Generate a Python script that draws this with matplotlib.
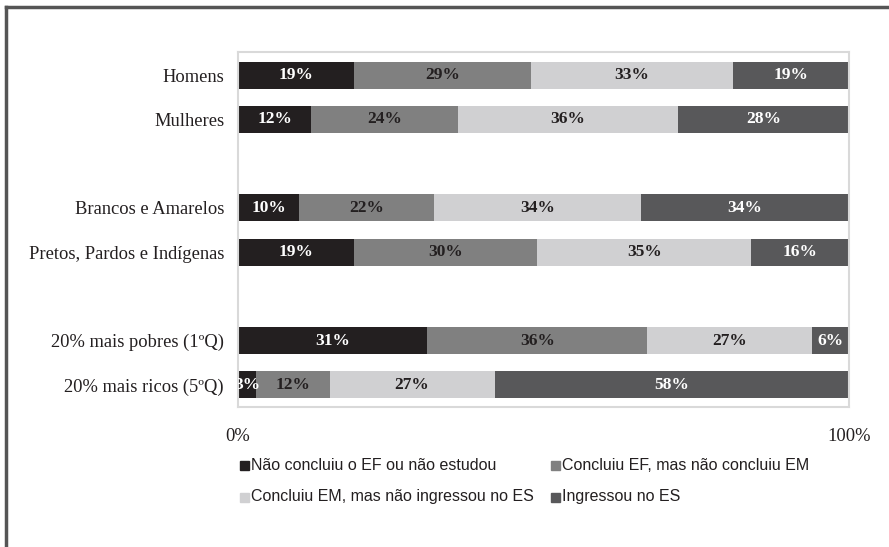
import matplotlib.pyplot as plt
from matplotlib.lines import Line2D
from matplotlib.patches import Rectangle

# grupos e participação (%) em cada situação educacional
grupos = ['Homens', 'Mulheres', 'Brancos e Amarelos', 'Pretos, Pardos e Indígenas',
          '20% mais pobres (1ºQ)', '20% mais ricos (5ºQ)']
posicoes = [0, 1, 3, 4, 6, 7]

nao_concluiu_ef = [19, 12, 10, 19, 31, 3]
concluiu_ef = [29, 24, 22, 30, 36, 12]
concluiu_em = [33, 36, 34, 35, 27, 27]
ingressou_es = [19, 28, 34, 16, 6, 58]

series = [nao_concluiu_ef, concluiu_ef, concluiu_em, ingressou_es]
nomes = ['Não concluiu o EF ou não estudou', 'Concluiu EF, mas não concluiu EM',
         'Concluiu EM, mas não ingressou no ES', 'Ingressou no ES']
cores = ['#231f20', '#808080', '#d0d0d2', '#58585a']
cor_texto = ['white', '#231f20', '#231f20', 'white']

serif = ['Liberation Serif', 'DejaVu Serif']
sans = ['Liberation Sans', 'DejaVu Sans']

W, H = 889, 547
fig = plt.figure(figsize=(W / 100, H / 100), dpi=100)
ax = fig.add_axes([0.2677, 0.2559, 0.6873, 0.649])

esquerda = [0] * len(grupos)
for vals, cor, ct in zip(series, cores, cor_texto):
    bars = ax.barh(posicoes, vals, left=esquerda, height=0.61, color=cor,
                   edgecolor='none')
    for b, v in zip(bars, vals):
        ax.text(b.get_x() + b.get_width() / 2, b.get_y() + b.get_height() / 2,
                f'{v}%', ha='center', va='center', color=ct, fontsize=12.5,
                fontweight='bold', family=serif, clip_on=True)
    esquerda = [e + v for e, v in zip(esquerda, vals)]

ax.set_xlim(0, 100)
ax.set_ylim(7.5, -0.52)
ax.set_yticks(posicoes)
ax.set_yticklabels(grupos, family=serif, fontsize=13.3, color='#231f20')
ax.set_xticks([0, 100])
ax.set_xticklabels(['0%', '100%'], family=serif, fontsize=13.3, color='#231f20')
ax.tick_params(length=0)
ax.tick_params(axis='y', pad=10)
ax.tick_params(axis='x', pad=15)
for s in ax.spines.values():
    s.set_color('#d9d9d9')
    s.set_linewidth(1.5)

# legenda em duas colunas, preenchida por linha
leg_x = [240, 551]
leg_y = [465, 497]
for i, (nome, cor) in enumerate(zip(nomes, cores)):
    x = leg_x[i % 2]
    y = leg_y[i // 2]
    fig.add_artist(Rectangle((x / W, (H - y - 4.5) / H), 9 / W, 9 / H,
                             transform=fig.transFigure, color=cor))
    fig.text((x + 11) / W, (H - y) / H, nome, ha='left', va='center',
             family=sans, fontsize=11.5, color='#231f20')

# moldura superior e esquerda
fig.add_artist(Line2D([0.007, 0.007], [0, 0.987], transform=fig.transFigure,
                      color='#555555', lw=2.5))
fig.add_artist(Line2D([0.007, 1], [0.987, 0.987], transform=fig.transFigure,
                      color='#555555', lw=2.5))

fig.savefig('out.png', dpi=100)
